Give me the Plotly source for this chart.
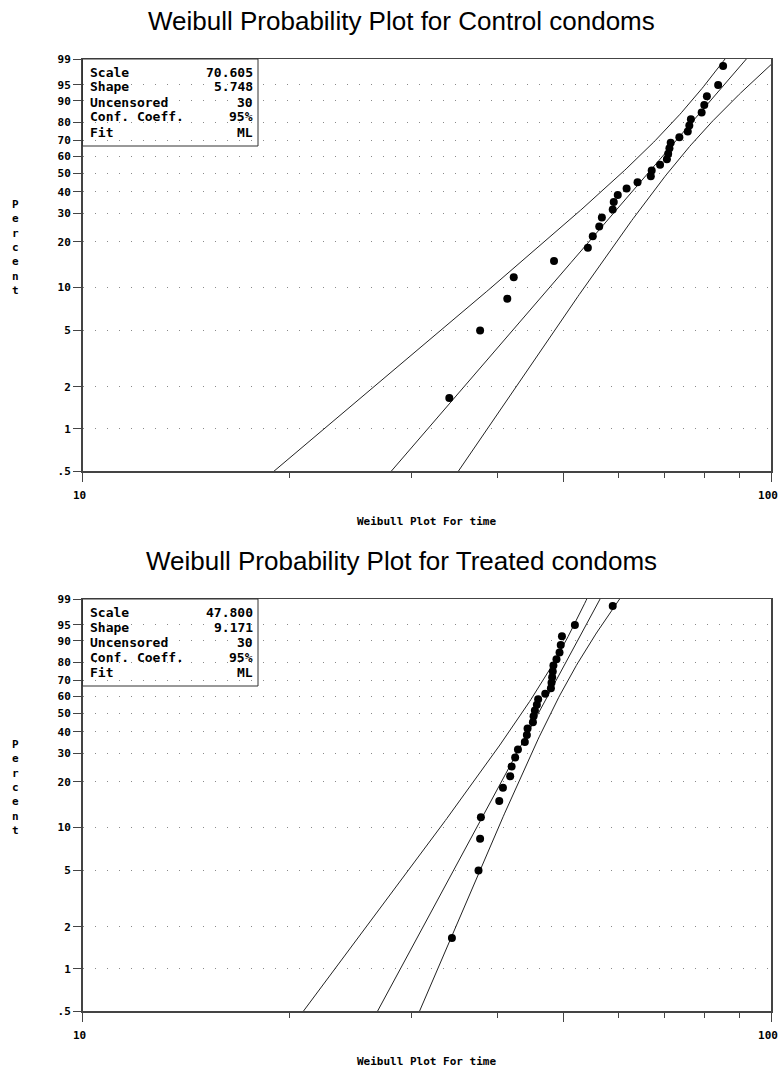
import numpy as np
import plotly.graph_objects as go
from statistics import NormalDist

W, H = 779, 1070

# ---------------- data ----------------
panel_titles = ["Weibull Probability Plot for Control condoms",
                "Weibull Probability Plot for Treated condoms"]
control_time = [34.1, 37.8, 41.4, 42.3, 48.4, 54.2, 55.1, 56.3, 56.8, 58.9,
                59.1, 59.9, 61.7, 64.0, 66.9, 67.1, 69.0, 70.6, 70.9, 71.2,
                71.5, 73.6, 75.7, 76.1, 76.5, 79.3, 80.0, 80.7, 83.8, 85.2]
treated_time = [34.4, 37.6, 37.8, 37.9, 40.3, 40.8, 41.8, 42.0, 42.5, 42.9,
                43.9, 44.2, 44.3, 45.1, 45.2, 45.4, 45.7, 45.9, 47.0, 47.9,
                48.0, 48.1, 48.2, 48.3, 48.8, 49.3, 49.5, 49.7, 51.9, 58.9]
scales = [70.605, 47.800]
shapes_k = [5.748, 9.171]
uncensored = [30, 30]
conf_coeff = [95, 95]
fit_method = ["ML", "ML"]
legend_labels = ["Scale", "Shape", "Uncensored", "Conf. Coeff.", "Fit"]
pct_ticks = [0.5, 1, 2, 5, 10, 20, 30, 40, 50, 60, 70, 80, 90, 95, 99]
pct_labels = [".5", "1", "2", "5", "10", "20", "30", "40", "50", "60",
              "70", "80", "90", "95", "99"]
x_ticks = [10, 50, 100]
x_labels = ["10", "", "100"]
x_minor = [20, 30, 40, 60, 70, 80, 90]
x_title = "Weibull Plot For time"
y_title = "Percent"


def wb(p):
    p = np.asarray(p, dtype=float) / 100.0
    return np.log(-np.log(1.0 - p))


def bands(n, scale, shape, conf):
    # pointwise Wald limits on the linearised Weibull scale, using the
    # expected Fisher information of the ML estimates (complete sample)
    zq = NormalDist().inv_cdf(0.5 + conf / 200.0)
    u = np.log(scale)
    b = 1.0 / shape
    g = 1 - np.euler_gamma
    J = n / b ** 2 * np.array([[1.0, g], [g, np.pi ** 2 / 6 + g ** 2]])
    V = np.linalg.inv(J)
    xg = np.logspace(1, 2, 500)
    t = (np.log(xg) - u) / b
    var_t = (V[0, 0] + 2 * t * V[0, 1] + t ** 2 * V[1, 1]) / b ** 2
    se = np.sqrt(var_t)
    return xg, t, t - zq * se, t + zq * se


# ---------------- geometry (pixels) ----------------
x_left, x_right = 82.5, 771.0
frames = [(59.0, 471.0), (599.0, 1011.0)]


def px(x):
    return x / W


def py(y):
    return 1 - y / H


fig = go.Figure()
series = [control_time, treated_time]
line_col = "#222222"

for k in range(2):
    xa = "x" if k == 0 else "x2"
    ya = "y" if k == 0 else "y2"
    times = np.sort(np.array(series[k]))
    n = len(times)
    pos = (np.arange(1, n + 1) - 0.5) / n * 100
    xg, t, lo, hi = bands(uncensored[k], scales[k], shapes_k[k], conf_coeff[k])
    for yy in (hi, t, lo):
        fig.add_trace(go.Scatter(x=xg, y=yy, mode="lines", xaxis=xa, yaxis=ya,
                                 line=dict(color=line_col, width=1),
                                 hoverinfo="skip", showlegend=False))
    fig.add_trace(go.Scatter(x=times, y=wb(pos), mode="markers", xaxis=xa, yaxis=ya,
                             marker=dict(color="black", size=8),
                             showlegend=False, cliponaxis=False))

tick_font = dict(family="DejaVu Sans Mono", size=11, color="black", weight="bold")
yr = [float(wb(0.5)), float(wb(99))]

axis_common = dict(showline=True, mirror=True, linecolor="#444444", linewidth=1.5,
                   zeroline=False, ticks="outside", tickcolor="#444444",
                   tickfont=tick_font, automargin=False, ticklabeloverflow="allow")

layout = dict(width=W, height=H, margin=dict(l=0, r=0, t=0, b=0, autoexpand=False),
              paper_bgcolor="white", plot_bgcolor="white", showlegend=False)

for k in range(2):
    top, bot = frames[k]
    xk = "xaxis" if k == 0 else "xaxis2"
    yk = "yaxis" if k == 0 else "yaxis2"
    layout[xk] = dict(axis_common, domain=[px(x_left), px(x_right)], type="log",
                      range=[1, 2], tickmode="array", tickvals=x_ticks,
                      ticktext=x_labels, ticklen=9, tickwidth=1,
                      ticklabelstandoff=4, ticklabelshift=-3, showgrid=False,
                      anchor="y" if k == 0 else "y2",
                      minor=dict(tickmode="array", tickvals=x_minor, ticklen=5,
                                 ticks="outside", tickcolor="#444444", showgrid=False))
    layout[yk] = dict(axis_common, domain=[py(bot), py(top)], range=yr,
                      tickmode="array", tickvals=list(wb(pct_ticks)),
                      ticktext=pct_labels, ticklen=8, tickwidth=1,
                      showgrid=True, gridcolor="#8a8a8a", gridwidth=1,
                      griddash="1px,11px",
                      anchor="x" if k == 0 else "x2")

fig.update_layout(**layout)

ann = []
shp = []
for k in range(2):
    top, bot = frames[k]
    off = top - frames[0][0]
    ann.append(dict(text=panel_titles[k], x=px(401), y=py(21 + off), xref="paper",
                    yref="paper", showarrow=False, xanchor="center", yanchor="middle",
                    font=dict(family="Liberation Sans", size=26, color="black")))
    ann.append(dict(text=x_title, x=px((x_left + x_right) / 2), y=py(521 + off),
                    xref="paper", yref="paper", showarrow=False, xanchor="center",
                    yanchor="middle",
                    font=dict(family="DejaVu Sans Mono", size=11, color="black",
                              weight="bold")))
    ann.append(dict(text="<br>".join(list(y_title)), x=px(16), y=py(247 + off),
                    xref="paper", yref="paper", showarrow=False, xanchor="center",
                    yanchor="middle", align="center",
                    font=dict(family="DejaVu Sans Mono", size=11, color="black",
                              weight="bold")))
    vals = [f"{scales[k]:.3f}", f"{shapes_k[k]:.3f}", str(uncensored[k]),
            f"{conf_coeff[k]}%", fit_method[k]]
    for j, (lab, v) in enumerate(zip(legend_labels, vals)):
        yrow = top + 13 + 15 * j
        ann.append(dict(text=lab, x=px(88), y=py(yrow), xref="paper", yref="paper",
                        showarrow=False, xanchor="left", yanchor="middle",
                        font=dict(family="DejaVu Sans Mono", size=13, color="black",
                                  weight="bold")))
        ann.append(dict(text=v, x=px(255), y=py(yrow), xref="paper", yref="paper",
                        showarrow=False, xanchor="right", yanchor="middle",
                        font=dict(family="DejaVu Sans Mono", size=13, color="black",
                                  weight="bold")))
    shp.append(dict(type="rect", xref="paper", yref="paper", x0=px(x_left), x1=px(258),
                    y0=py(top + 87), y1=py(top), line=dict(color="#333333", width=1),
                    fillcolor="rgba(0,0,0,0)"))

fig.update_layout(annotations=ann, shapes=shp)
fig.write_html("out.html",
               config={"displayModeBar": False, "staticPlot": True},
               post_script="document.body.style.margin='0';"
                           "document.body.style.overflow='hidden';")
